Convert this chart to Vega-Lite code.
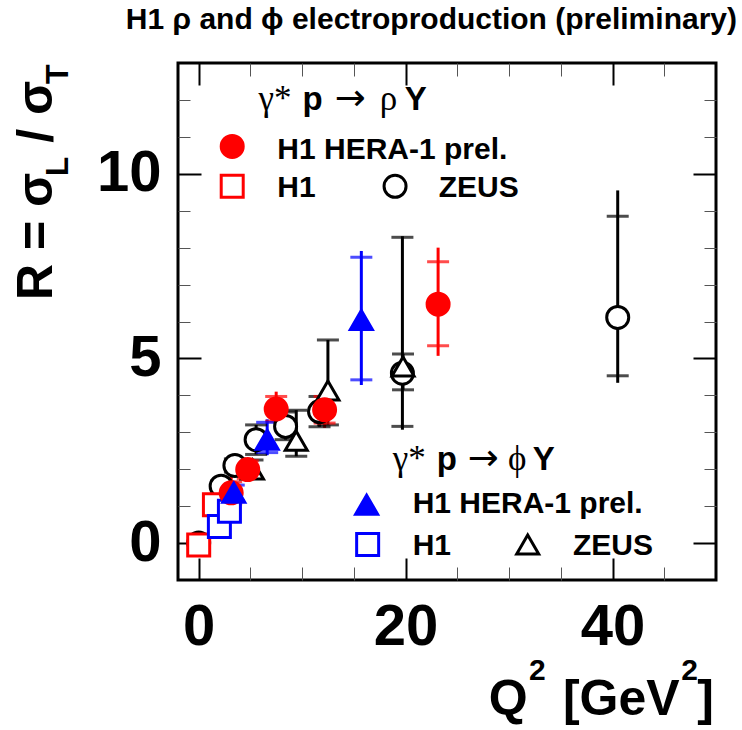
{
  "$schema": "https://vega.github.io/schema/vega-lite/v6.json",
  "width": 538,
  "height": 517,
  "autosize": {"type": "none"},
  "padding": {"left": 178, "top": 63, "right": 26, "bottom": 150},
  "background": "white",
  "config": {"view": {"stroke": "black", "strokeWidth": 3}, "font": "Liberation Sans"},
  "title": {"text": "H1 ρ and ϕ electroproduction (preliminary)", "anchor": "end", "frame": "group", "dx": 21, "offset": 3, "baseline": "alphabetic", "fontSize": 30, "fontWeight": "bold", "font": "Liberation Sans", "color": "black"},
  "datasets": {
    "pts": [
      {"s": "rZ", "x": 0, "y": 0, "slo": 0, "shi": 0, "tlo": 0, "thi": 0},
      {"s": "rZ", "x": 2.17, "y": 1.54, "slo": 1.4, "shi": 1.68, "tlo": 1.4, "thi": 1.68},
      {"s": "rZ", "x": 3.5, "y": 2.1, "slo": 1.92, "shi": 2.28, "tlo": 1.92, "thi": 2.28},
      {"s": "rZ", "x": 5.55, "y": 2.8, "slo": 2.4, "shi": 3.2, "tlo": 2.4, "thi": 3.2},
      {"s": "rZ", "x": 8.4, "y": 3.16, "slo": 2.8, "shi": 3.55, "tlo": 2.8, "thi": 3.55},
      {"s": "rZ", "x": 11.68, "y": 3.56, "slo": 3.15, "shi": 3.97, "tlo": 3.15, "thi": 3.97},
      {"s": "rZ", "x": 19.69, "y": 4.6, "slo": 3.16, "shi": 8.28, "tlo": 3.07, "thi": 8.31},
      {"s": "rZ", "x": 40.5, "y": 6.11, "slo": 4.53, "shi": 8.85, "tlo": 4.34, "thi": 9.55},
      {"s": "pZ", "x": 2.65, "y": 0.99, "slo": 0.8, "shi": 1.2, "tlo": 0.8, "thi": 1.2},
      {"s": "pZ", "x": 5.2, "y": 1.99, "slo": 1.75, "shi": 2.25, "tlo": 1.75, "thi": 2.25},
      {"s": "pZ", "x": 9.43, "y": 2.77, "slo": 2.35, "shi": 3.6, "tlo": 2.35, "thi": 3.6},
      {"s": "pZ", "x": 12.49, "y": 4.13, "slo": 3.2, "shi": 5.5, "tlo": 3.2, "thi": 5.5},
      {"s": "pZ", "x": 19.75, "y": 4.78, "slo": 4.15, "shi": 5.12, "tlo": 4.15, "thi": 5.12},
      {"s": "rH", "x": 0, "y": -0.05, "slo": -0.05, "shi": -0.05, "tlo": -0.05, "thi": -0.05},
      {"s": "rH", "x": 1.52, "y": 1.04, "slo": 0.94, "shi": 1.14, "tlo": 0.94, "thi": 1.14},
      {"s": "pH", "x": 2.0, "y": 0.45, "slo": 0.38, "shi": 0.52, "tlo": 0.38, "thi": 0.52},
      {"s": "pH", "x": 2.97, "y": 0.86, "slo": 0.78, "shi": 0.94, "tlo": 0.78, "thi": 0.94},
      {"s": "rP", "x": 3.14, "y": 1.36, "slo": 1.06, "shi": 1.66, "tlo": 0.9, "thi": 1.82},
      {"s": "rP", "x": 4.74, "y": 1.99, "slo": 1.75, "shi": 2.23, "tlo": 1.7, "thi": 2.28},
      {"s": "rP", "x": 7.49, "y": 3.63, "slo": 3.3, "shi": 3.97, "tlo": 3.16, "thi": 4.1},
      {"s": "rP", "x": 12.17, "y": 3.61, "slo": 3.25, "shi": 3.97, "tlo": 3.12, "thi": 4.07},
      {"s": "rP", "x": 23.14, "y": 6.47, "slo": 5.34, "shi": 7.62, "tlo": 5.07, "thi": 8.0},
      {"s": "pP", "x": 3.39, "y": 1.36, "slo": 1.15, "shi": 1.57, "tlo": 1.1, "thi": 1.62},
      {"s": "pP", "x": 6.62, "y": 2.8, "slo": 2.45, "shi": 3.27, "tlo": 2.38, "thi": 3.35},
      {"s": "pP", "x": 15.72, "y": 6.04, "slo": 4.42, "shi": 7.74, "tlo": 4.28, "thi": 7.91}
    ],
    "leg": [
      {"s": "rP", "x": 3.24, "y": 10.74},
      {"s": "rH", "x": 3.24, "y": 9.66},
      {"s": "rZ", "x": 18.98, "y": 9.66},
      {"s": "pP", "x": 16.23, "y": 1.04},
      {"s": "pH", "x": 16.33, "y": -0.04},
      {"s": "pZ", "x": 31.8, "y": -0.04}
    ],
    "boldtext": [
      {"x": 7.6, "y": 10.4, "t": "H1 HERA-1 prel."},
      {"x": 7.6, "y": 9.36, "t": "H1"},
      {"x": 23.2, "y": 9.36, "t": "ZEUS"},
      {"x": 20.68, "y": 0.82, "t": "H1 HERA-1 prel."},
      {"x": 20.68, "y": -0.31, "t": "H1"},
      {"x": 36.18, "y": -0.31, "t": "ZEUS"}
    ],
    "boldhead": [
      {"x": 10.04, "y": 11.72, "t": "p"},
      {"x": 19.91, "y": 11.72, "t": "Y"},
      {"x": 23.0, "y": 1.99, "t": "p"},
      {"x": 32.3, "y": 1.99, "t": "Y"}
    ],
    "seriftext": [
      {"x": 5.78, "y": 11.72, "t": "γ*"},
      {"x": 17.49, "y": 11.72, "t": "ρ"},
      {"x": 18.75, "y": 1.99, "t": "γ*"},
      {"x": 29.89, "y": 1.99, "t": "ϕ"}
    ],
    "arrows": [
      {"x": 13.14, "y": 11.72, "t": "→"},
      {"x": 26.0, "y": 1.99, "t": "→"}
    ],
    "xtbig": [
      {"x": 28.04, "y": -4.66, "t": "Q"},
      {"x": 35.2, "y": -4.66, "t": "[GeV"},
      {"x": 48.18, "y": -4.66, "t": "]"}
    ],
    "xtsup": [
      {"x": 31.92, "y": -3.72, "t": "2"},
      {"x": 46.63, "y": -3.72, "t": "2"}
    ],
    "ytbig": [
      {"x": -14.16, "y": 6.58, "t": "R = σ"},
      {"x": -14.16, "y": 10.84, "t": "/ σ"}
    ],
    "ytsub": [
      {"x": -12.6, "y": 9.93, "t": "L"},
      {"x": -12.6, "y": 12.43, "t": "T"}
    ]
  },
  "layer": [
    {
      "data": {"name": "pts"},
      "mark": {"type": "rule", "strokeWidth": 3},
      "encoding": {
        "x": {"field": "x", "type": "quantitative", "scale": {"domain": [-2, 50], "nice": false, "zero": false},
          "axis": {"orient": "bottom", "values": [0, 5, 10, 15, 20, 25, 30, 35, 40, 45], "domain": false, "grid": false, "title": null,
            "labelExpr": "datum.value % 20 === 0 ? datum.label : ''", "labelFontSize": 58, "labelFontWeight": "bold", "labelFont": "Liberation Sans", "labelColor": "black", "labelPadding": 40, "labelFlush": false, "labelOverlap": false, "labelBound": false,
            "tickSize": {"condition": {"test": "datum.value % 20 === 0", "value": -22}, "value": -13},
            "tickColor": {"condition": {"test": "datum.value % 20 === 0", "value": "black"}, "value": "#555555"},
            "tickWidth": {"condition": {"test": "datum.value % 20 === 0", "value": 2}, "value": 1}}},
        "y": {"field": "tlo", "type": "quantitative", "scale": {"domain": [-1, 13], "nice": false, "zero": false},
          "axis": {"orient": "left", "values": [0, 1, 2, 3, 4, 5, 6, 7, 8, 9, 10, 11, 12], "domain": false, "grid": false, "title": null,
            "labelExpr": "datum.value % 5 === 0 ? datum.label : ''", "labelFontSize": 58, "labelFontWeight": "bold", "labelFont": "Liberation Sans", "labelColor": "black", "labelPadding": 40, "labelFlush": false, "labelOverlap": false, "labelBound": false,
            "tickSize": {"condition": {"test": "datum.value % 5 === 0", "value": -23}, "value": -12},
            "tickColor": {"condition": {"test": "datum.value % 5 === 0", "value": "black"}, "value": "#555555"},
            "tickWidth": {"condition": {"test": "datum.value % 5 === 0", "value": 2}, "value": 1}}},
        "y2": {"field": "thi"},
        "color": {"field": "s", "type": "nominal", "legend": null, "scale": {"domain": ["rZ", "pZ", "rH", "pH", "rP", "pP"], "range": ["#000000", "#000000", "#ff0000", "#0000ff", "#ff0000", "#0000ff"]}}
      }
    },
    {
      "data": {"name": "pts"},
      "transform": [{"fold": ["slo", "shi"], "as": ["k", "cap"]}],
      "mark": {"type": "tick", "orient": "horizontal", "size": 22, "thickness": 3},
      "encoding": {
        "x": {"field": "x", "type": "quantitative", "scale": {"domain": [-2, 50], "nice": false, "zero": false}, "axis": null},
        "y": {"field": "cap", "type": "quantitative", "scale": {"domain": [-1, 13], "nice": false, "zero": false}, "axis": null},
        "color": {"field": "s", "type": "nominal", "legend": null, "scale": {"domain": ["rZ", "pZ", "rH", "pH", "rP", "pP"], "range": ["#000000", "#000000", "#ff0000", "#0000ff", "#ff0000", "#0000ff"]}}
      }
    },
    {
      "data": {"name": "pts"},
      "mark": {"type": "point", "strokeWidth": 3, "opacity": 1},
      "encoding": {
        "x": {"field": "x", "type": "quantitative", "scale": {"domain": [-2, 50], "nice": false, "zero": false},
          "axis": {"orient": "top", "values": [0, 5, 10, 15, 20, 25, 30, 35, 40, 45], "domain": false, "grid": false, "title": null, "labels": false,
            "tickSize": {"condition": {"test": "datum.value % 20 === 0", "value": -22}, "value": -13},
            "tickColor": {"condition": {"test": "datum.value % 20 === 0", "value": "black"}, "value": "#555555"},
            "tickWidth": {"condition": {"test": "datum.value % 20 === 0", "value": 2}, "value": 1}}},
        "y": {"field": "y", "type": "quantitative", "scale": {"domain": [-1, 13], "nice": false, "zero": false},
          "axis": {"orient": "right", "values": [0, 1, 2, 3, 4, 5, 6, 7, 8, 9, 10, 11, 12], "domain": false, "grid": false, "title": null, "labels": false,
            "tickSize": {"condition": {"test": "datum.value % 5 === 0", "value": -23}, "value": -12},
            "tickColor": {"condition": {"test": "datum.value % 5 === 0", "value": "black"}, "value": "#555555"},
            "tickWidth": {"condition": {"test": "datum.value % 5 === 0", "value": 2}, "value": 1}}},
        "shape": {"field": "s", "type": "nominal", "legend": null, "scale": {"domain": ["rZ", "pZ", "rH", "pH", "rP", "pP"], "range": ["circle", "triangle-up", "square", "square", "circle", "triangle-up"]}},
        "stroke": {"field": "s", "type": "nominal", "legend": null, "scale": {"domain": ["rZ", "pZ", "rH", "pH", "rP", "pP"], "range": ["#000000", "#000000", "#ff0000", "#0000ff", "#ff0000", "#0000ff"]}},
        "fill": {"field": "s", "type": "nominal", "legend": null, "scale": {"domain": ["rZ", "pZ", "rH", "pH", "rP", "pP"], "range": ["#ffffff", "#ffffff", "#ffffff", "#ffffff", "#ff0000", "#0000ff"]}},
        "size": {"field": "s", "type": "ordinal", "legend": null, "scale": {"domain": ["rZ", "pZ", "rH", "pH", "rP", "pP"], "range": [484, 484, 484, 484, 400, 380]}}
      }
    },
    {
      "data": {"name": "leg"},
      "mark": {"type": "point", "strokeWidth": 3, "opacity": 1},
      "encoding": {
        "x": {"field": "x", "type": "quantitative", "scale": {"domain": [-2, 50], "nice": false, "zero": false}, "axis": null},
        "y": {"field": "y", "type": "quantitative", "scale": {"domain": [-1, 13], "nice": false, "zero": false}, "axis": null},
        "shape": {"field": "s", "type": "nominal", "legend": null, "scale": {"domain": ["rZ", "pZ", "rH", "pH", "rP", "pP"], "range": ["circle", "triangle-up", "square", "square", "circle", "triangle-up"]}},
        "stroke": {"field": "s", "type": "nominal", "legend": null, "scale": {"domain": ["rZ", "pZ", "rH", "pH", "rP", "pP"], "range": ["#000000", "#000000", "#ff0000", "#0000ff", "#ff0000", "#0000ff"]}},
        "fill": {"field": "s", "type": "nominal", "legend": null, "scale": {"domain": ["rZ", "pZ", "rH", "pH", "rP", "pP"], "range": ["#ffffff", "#ffffff", "#ffffff", "#ffffff", "#ff0000", "#0000ff"]}},
        "size": {"field": "s", "type": "ordinal", "legend": null, "scale": {"domain": ["rZ", "pZ", "rH", "pH", "rP", "pP"], "range": [484, 484, 484, 484, 400, 380]}}
      }
    },
    {
      "data": {"name": "boldtext"},
      "mark": {"type": "text", "font": "Liberation Sans", "fontWeight": "bold", "fontSize": 30, "align": "left", "baseline": "alphabetic", "color": "black"},
      "encoding": {
        "x": {"field": "x", "type": "quantitative", "scale": {"domain": [-2, 50], "nice": false, "zero": false}, "axis": null},
        "y": {"field": "y", "type": "quantitative", "scale": {"domain": [-1, 13], "nice": false, "zero": false}, "axis": null},
        "text": {"field": "t"}
      }
    },
    {
      "data": {"name": "boldhead"},
      "mark": {"type": "text", "font": "Liberation Sans", "fontWeight": "bold", "fontSize": 33, "align": "left", "baseline": "alphabetic", "color": "black"},
      "encoding": {
        "x": {"field": "x", "type": "quantitative", "scale": {"domain": [-2, 50], "nice": false, "zero": false}, "axis": null},
        "y": {"field": "y", "type": "quantitative", "scale": {"domain": [-1, 13], "nice": false, "zero": false}, "axis": null},
        "text": {"field": "t"}
      }
    },
    {
      "data": {"name": "seriftext"},
      "mark": {"type": "text", "font": "Liberation Serif", "fontWeight": "normal", "fontSize": 35, "align": "left", "baseline": "alphabetic", "color": "black"},
      "encoding": {
        "x": {"field": "x", "type": "quantitative", "scale": {"domain": [-2, 50], "nice": false, "zero": false}, "axis": null},
        "y": {"field": "y", "type": "quantitative", "scale": {"domain": [-1, 13], "nice": false, "zero": false}, "axis": null},
        "text": {"field": "t"}
      }
    },
    {
      "data": {"name": "arrows"},
      "mark": {"type": "text", "font": "DejaVu Sans", "fontWeight": "normal", "fontSize": 37, "align": "left", "baseline": "alphabetic", "color": "black"},
      "encoding": {
        "x": {"field": "x", "type": "quantitative", "scale": {"domain": [-2, 50], "nice": false, "zero": false}, "axis": null},
        "y": {"field": "y", "type": "quantitative", "scale": {"domain": [-1, 13], "nice": false, "zero": false}, "axis": null},
        "text": {"field": "t"}
      }
    },
    {
      "data": {"name": "xtbig"},
      "mark": {"type": "text", "font": "Liberation Sans", "fontWeight": "bold", "fontSize": 50, "align": "left", "baseline": "alphabetic", "color": "black"},
      "encoding": {
        "x": {"field": "x", "type": "quantitative", "scale": {"domain": [-2, 50], "nice": false, "zero": false}, "axis": null},
        "y": {"field": "y", "type": "quantitative", "scale": {"domain": [-1, 13], "nice": false, "zero": false}, "axis": null},
        "text": {"field": "t"}
      }
    },
    {
      "data": {"name": "xtsup"},
      "mark": {"type": "text", "font": "Liberation Sans", "fontWeight": "bold", "fontSize": 30, "align": "left", "baseline": "alphabetic", "color": "black"},
      "encoding": {
        "x": {"field": "x", "type": "quantitative", "scale": {"domain": [-2, 50], "nice": false, "zero": false}, "axis": null},
        "y": {"field": "y", "type": "quantitative", "scale": {"domain": [-1, 13], "nice": false, "zero": false}, "axis": null},
        "text": {"field": "t"}
      }
    },
    {
      "data": {"name": "ytbig"},
      "mark": {"type": "text", "font": "Liberation Sans", "fontWeight": "bold", "fontSize": 50, "align": "left", "baseline": "alphabetic", "angle": 270, "color": "black"},
      "encoding": {
        "x": {"field": "x", "type": "quantitative", "scale": {"domain": [-2, 50], "nice": false, "zero": false}, "axis": null},
        "y": {"field": "y", "type": "quantitative", "scale": {"domain": [-1, 13], "nice": false, "zero": false}, "axis": null},
        "text": {"field": "t"}
      }
    },
    {
      "data": {"name": "ytsub"},
      "mark": {"type": "text", "font": "Liberation Sans", "fontWeight": "bold", "fontSize": 32, "align": "left", "baseline": "alphabetic", "angle": 270, "color": "black"},
      "encoding": {
        "x": {"field": "x", "type": "quantitative", "scale": {"domain": [-2, 50], "nice": false, "zero": false}, "axis": null},
        "y": {"field": "y", "type": "quantitative", "scale": {"domain": [-1, 13], "nice": false, "zero": false}, "axis": null},
        "text": {"field": "t"}
      }
    }
  ],
  "resolve": {"axis": {"x": "independent", "y": "independent"}}
}
